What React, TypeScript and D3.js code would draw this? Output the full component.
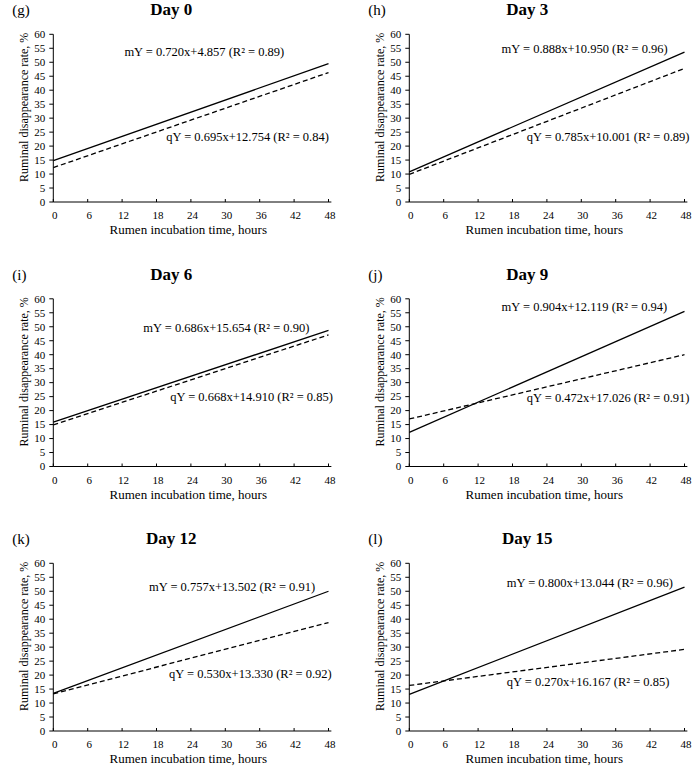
import React from "react";
import * as d3 from "d3";

// ---- data ----
const panelLabels = ["(g)", "(h)", "(i)", "(j)", "(k)", "(l)"];
const panelTitles = ["Day 0", "Day 3", "Day 6", "Day 9", "Day 12", "Day 15"];
const hours = [0, 48];
const mValues = [
  [14.8, 49.5],
  [10.8, 53.6],
  [15.9, 48.7],
  [12.2, 55.5],
  [13.5, 50.0],
  [13.1, 51.5],
];
const qValues = [
  [12.3, 46.3],
  [9.9, 47.8],
  [14.9, 47.1],
  [17.0, 40.0],
  [13.3, 38.8],
  [16.3, 29.2],
];
const mEquations = [
  "mY = 0.720x+4.857 (R² = 0.89)",
  "mY = 0.888x+10.950 (R² = 0.96)",
  "mY = 0.686x+15.654 (R² = 0.90)",
  "mY = 0.904x+12.119 (R² = 0.94)",
  "mY = 0.757x+13.502 (R² = 0.91)",
  "mY = 0.800x+13.044 (R² = 0.96)",
];
const qEquations = [
  "qY = 0.695x+12.754 (R² = 0.84)",
  "qY = 0.785x+10.001 (R² = 0.89)",
  "qY = 0.668x+14.910 (R² = 0.85)",
  "qY = 0.472x+17.026 (R² = 0.91)",
  "qY = 0.530x+13.330 (R² = 0.92)",
  "qY = 0.270x+16.167 (R² = 0.85)",
];
const xTicks = [0, 6, 12, 18, 24, 30, 36, 42, 48];
const yTicks = [0, 5, 10, 15, 20, 25, 30, 35, 40, 45, 50, 55, 60];
const xTitle = "Rumen incubation time, hours";
const yTitle = "Ruminal disappearance rate, %";

// ---- layout (label anchors in data units) ----
const mLabelPos = [
  [12.4, 53.6],
  [16.1, 54.6],
  [15.7, 49.5],
  [16.1, 57.0],
  [16.7, 51.5],
  [17.0, 53.0],
];
const qLabelPos = [
  [19.7, 23.1],
  [20.5, 23.1],
  [20.4, 24.8],
  [20.5, 24.5],
  [20.2, 20.3],
  [17.0, 17.5],
];
const colX = [53.3, 409.3];
const rowY = [34.3, 298.8, 563.3];
const plotH = 167.7;
const pxPerUnit = 34.4 / 6;
const xMax = 48.5;

const FONT = "'Liberation Serif', 'Times New Roman', serif";

function Panel({ i }: { i: number }) {
  const ox = colX[i % 2];
  const oy = rowY[Math.floor(i / 2)];
  const x = d3.scaleLinear().domain([0, xMax]).range([ox, ox + xMax * pxPerUnit]);
  const y = d3.scaleLinear().domain([0, 60]).range([oy + plotH, oy]);
  const line = d3
    .line<[number, number]>()
    .x((d) => x(d[0]))
    .y((d) => y(d[1]));
  const mPts = hours.map((h, k) => [h, mValues[i][k]] as [number, number]);
  const qPts = hours.map((h, k) => [h, qValues[i][k]] as [number, number]);
  const y0 = y(0);
  return (
    <g fontFamily={FONT} fill="#000">
      <text x={ox - 41} y={oy - 19} fontSize={15}>
        {panelLabels[i]}
      </text>
      <text x={ox + 118} y={oy - 19} fontSize={17} fontWeight="bold" textAnchor="middle">
        {panelTitles[i]}
      </text>
      {/* axes */}
      <line x1={ox} x2={ox} y1={y(60)} y2={y0} stroke="#000" strokeWidth={1} />
      <line x1={ox} x2={x(xMax)} y1={y0} y2={y0} stroke="#000" strokeWidth={1} />
      {yTicks.map((t) => (
        <g key={"y" + t}>
          <line x1={ox - 4} x2={ox} y1={y(t)} y2={y(t)} stroke="#000" strokeWidth={1} />
          <text x={ox - 8} y={y(t) + 3.8} fontSize={11} textAnchor="end">
            {t}
          </text>
        </g>
      ))}
      {xTicks.map((t) => (
        <g key={"x" + t}>
          <line x1={x(t)} x2={x(t)} y1={y0} y2={y0 - 3} stroke="#000" strokeWidth={1} />
          <text x={x(t) + 1.5} y={y0 + 17} fontSize={11} textAnchor="middle">
            {t}
          </text>
        </g>
      ))}
      <text x={ox + 135} y={y0 + 32} fontSize={13} textAnchor="middle">
        {xTitle}
      </text>
      <text
        transform={`translate(${ox - 25},${oy + 73}) rotate(-90)`}
        fontSize={12}
        textAnchor="middle"
      >
        {yTitle}
      </text>
      {/* series */}
      <path d={line(mPts) || ""} fill="none" stroke="#000" strokeWidth={1.3} />
      <path
        d={line(qPts) || ""}
        fill="none"
        stroke="#000"
        strokeWidth={1.3}
        strokeDasharray="5,3"
      />
      <text x={x(mLabelPos[i][0])} y={y(mLabelPos[i][1]) + 4} fontSize={12.5}>
        {mEquations[i]}
      </text>
      <text x={x(qLabelPos[i][0])} y={y(qLabelPos[i][1]) + 4} fontSize={12.5}>
        {qEquations[i]}
      </text>
    </g>
  );
}

export default function App() {
  return (
    <svg
      width={700}
      height={768}
      style={{ position: "absolute", left: 0, top: 0, background: "#fff" }}
    >
      <rect width={700} height={768} fill="#fff" />
      {panelTitles.map((_, i) => (
        <Panel key={i} i={i} />
      ))}
    </svg>
  );
}
